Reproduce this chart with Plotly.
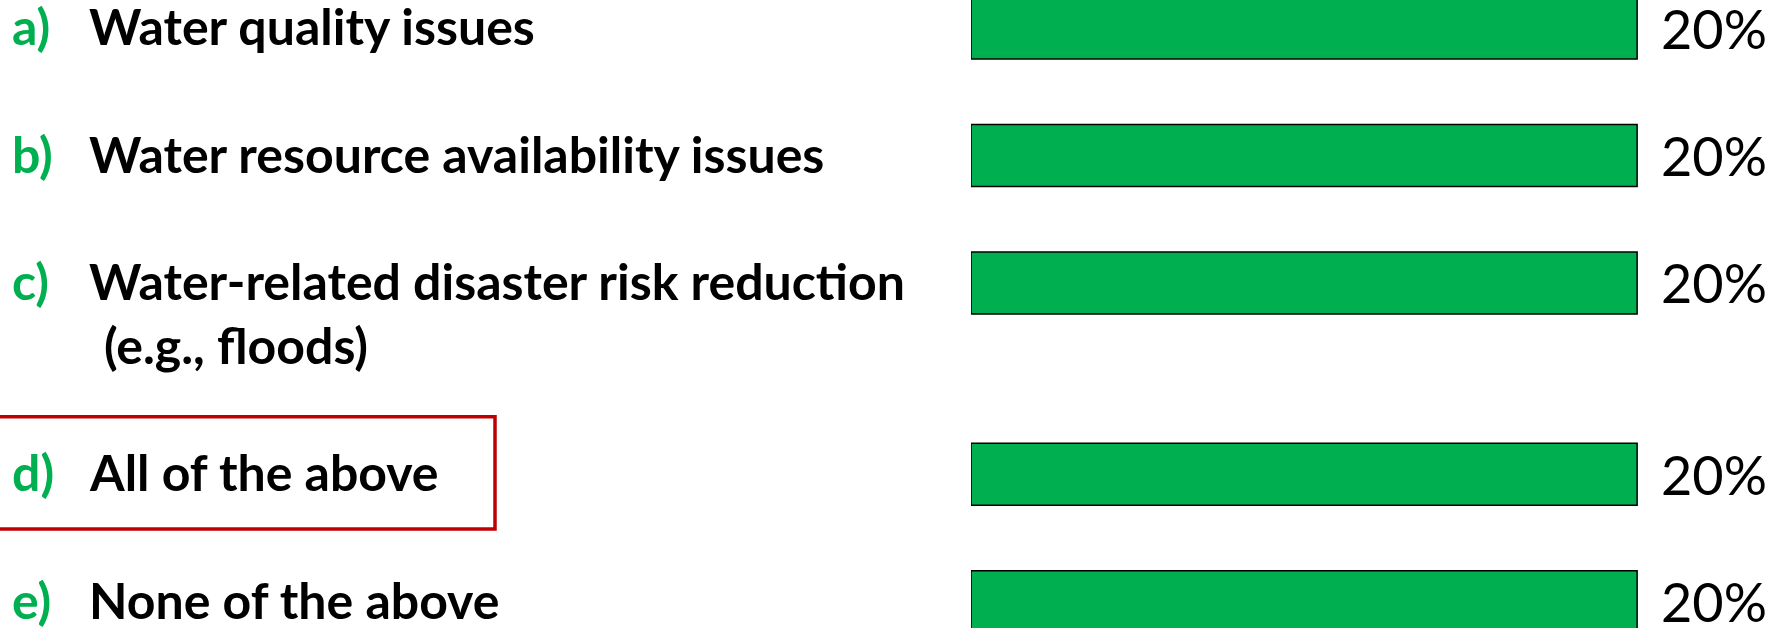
import plotly.graph_objects as go

letters = ["a)", "b)", "c)", "d)", "e)"]
options = [
    ["Water quality issues"],
    ["Water resource availability issues"],
    ["Water-related disaster risk reduction", "(e.g., floods)"],
    ["All of the above"],
    ["None of the above"],
]
values = [20, 20, 20, 20, 20]
correct = "d)"

GREEN = "#00B050"
RED = "#C00000"
FONT = "Lato"

# row positions: extra half-row for each additional label line
pos = []
p = 0.0
for lines in options:
    pos.append(p)
    p += 1 + 0.5 * (len(lines) - 1)

fig = go.Figure()
fig.add_trace(go.Bar(
    x=values, y=pos, orientation="h", width=0.486,
    marker=dict(color=GREEN, line=dict(color="black", width=1.5)),
    hoverinfo="skip", showlegend=False,
))

ann = []
for L, lines, v, yp in zip(letters, options, values, pos):
    ann.append(dict(x=10/1781, y=yp, xref="paper", yref="y", text=f"<b>{L}</b>",
                    showarrow=False, xanchor="left", yanchor="middle", yshift=2,
                    font=dict(family=FONT, size=50, color=GREEN)))
    for k, line in enumerate(lines):
        ann.append(dict(x=87/1781, y=yp + 0.5*k, xref="paper", yref="y", text=f"<b>{line}</b>",
                        showarrow=False, xanchor="left", yanchor="middle", yshift=2,
                        xshift=15 if k > 0 else 0,
                        font=dict(family=FONT, size=50, color="black")))
    ann.append(dict(x=v, y=yp, xref="x", yref="y", text=f"{v}%", showarrow=False,
                    xanchor="left", yanchor="middle", xshift=22,
                    font=dict(family=FONT, size=54, color="black")))

ci = letters.index(correct)
shapes = [dict(type="rect", xref="paper", yref="y", x0=-0.01, x1=495/1781,
               y0=pos[ci]-0.45, y1=pos[ci]+0.43,
               line=dict(color=RED, width=3.5), fillcolor="rgba(0,0,0,0)")]

fig.update_layout(
    width=1781, height=628,
    margin=dict(l=0, r=0, t=0, b=0),
    paper_bgcolor="white", plot_bgcolor="white",
    xaxis=dict(domain=[971/1781, 1], range=[0, 24.32], visible=False),
    yaxis=dict(range=[4.706, -0.2196], visible=False),
    annotations=ann, shapes=shapes,
)
fig.write_html("out.html")
